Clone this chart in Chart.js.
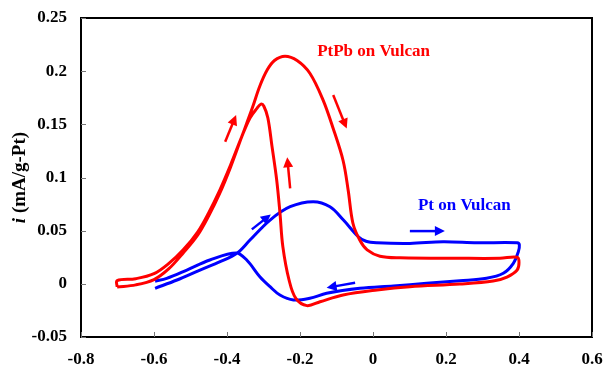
<!DOCTYPE html>
<html>
<head>
<meta charset="utf-8">
<script src="https://cdn.jsdelivr.net/npm/chart.js@4.4.1/dist/chart.umd.min.js"></script>
<style>
html,body{margin:0;padding:0;background:#fff;}
#wrap{width:604px;height:371px;}
</style>
</head>
<body>
<div id="wrap"><canvas id="cv"></canvas></div>
<script>
// PtPb on Vulcan, forward scan then reverse scan (potential, current)
const ptpbX = [-0.701,-0.65,-0.60,-0.56,-0.52,-0.48,-0.45,-0.42,-0.39,-0.36,-0.33,-0.31,-0.29,-0.27,-0.241,-0.208,-0.173,-0.137,-0.110,-0.082,-0.068,-0.055,-0.036,-0.016,0.019,0.074,0.238,0.348,0.395,0.400,
  0.395,0.367,0.329,0.238,0.101,0.011,-0.082,-0.145,-0.181,-0.211,-0.230,-0.247,-0.255,-0.264,-0.277,-0.288,-0.299,-0.307,-0.318,-0.337,-0.36,-0.39,-0.42,-0.45,-0.48,-0.52,-0.56,-0.60,-0.65,-0.701,-0.701];
const ptpbY = [-0.003,-0.001,0.004,0.014,0.029,0.046,0.064,0.085,0.110,0.138,0.166,0.186,0.201,0.210,0.214,0.210,0.198,0.173,0.147,0.116,0.088,0.057,0.041,0.032,0.026,0.0245,0.024,0.024,0.025,0.020,
  0.013,0.0064,0.0026,-0.0002,-0.0027,-0.0058,-0.0105,-0.0168,-0.0205,-0.014,0.0036,0.035,0.067,0.098,0.130,0.156,0.167,0.169,0.165,0.156,0.138,0.112,0.088,0.067,0.049,0.032,0.019,0.0095,0.0048,0.003,-0.003];

// Pt on Vulcan
const ptX = [-0.597,-0.537,-0.474,-0.419,-0.373,-0.337,-0.282,-0.227,-0.164,-0.118,-0.081,-0.040,-0.019,0.011,0.101,0.192,0.285,0.395,0.401,
  0.398,0.384,0.357,0.311,0.238,0.147,0.056,-0.036,-0.127,-0.173,-0.218,-0.255,-0.282,-0.310,-0.346,-0.375,-0.447,-0.510,-0.565,-0.597];
const ptY = [-0.0042,0.0036,0.013,0.0208,0.0287,0.0412,0.060,0.0725,0.0772,0.0725,0.060,0.0443,0.040,0.0386,0.038,0.0396,0.0386,0.0386,0.0365,
  0.030,0.019,0.0099,0.0052,0.0029,0.0005,-0.002,-0.0042,-0.0089,-0.0136,-0.0152,-0.0105,-0.0027,0.0067,0.0224,0.029,0.0224,0.013,0.0052,0.0025];

// scan direction arrows [x0, y0, x1, y1]
const redArrows = [[-0.405,0.1336,-0.375,0.1587],[-0.109,0.1775,-0.072,0.146],[-0.227,0.0898,-0.235,0.119]];
const blueArrows = [[-0.332,0.0512,-0.280,0.0653],[-0.049,0.001,-0.127,-0.0037],[0.101,0.0496,0.197,0.0496]];

const xMin = -0.8, xMax = 0.6, xStep = 0.2;
const yMin = -0.05, yMax = 0.25, yStep = 0.05;

const RED = '#ff0000', BLUE = '#0000ff';
const serif = "'Liberation Serif','Times New Roman',serif";

function pts(xs, ys){ return xs.map((x,i)=>({x:x, y:ys[i]})); }

function drawArrow(ctx, x0, y0, x1, y1, col){
  const a = Math.atan2(y1-y0, x1-x0), L = 10, W = 5;
  ctx.save();
  ctx.strokeStyle = col; ctx.fillStyle = col; ctx.lineWidth = 2.5;
  ctx.beginPath(); ctx.moveTo(x0,y0); ctx.lineTo(x1 - Math.cos(a)*L*0.8, y1 - Math.sin(a)*L*0.8); ctx.stroke();
  ctx.beginPath();
  ctx.moveTo(x1,y1);
  ctx.lineTo(x1 - Math.cos(a)*L - Math.sin(a)*W, y1 - Math.sin(a)*L + Math.cos(a)*W);
  ctx.lineTo(x1 - Math.cos(a)*L + Math.sin(a)*W, y1 - Math.sin(a)*L - Math.cos(a)*W);
  ctx.closePath(); ctx.fill();
  ctx.restore();
}

const decor = {
  id: 'decor',
  afterDatasetsDraw(chart){
    const ctx = chart.ctx, a = chart.chartArea, sx = chart.scales.x, sy = chart.scales.y;
    ctx.save();
    // frame
    ctx.strokeStyle = '#000'; ctx.lineWidth = 2;
    ctx.strokeRect(a.left, a.top, a.right-a.left, a.bottom-a.top);
    // inward ticks
    ctx.lineWidth = 1; ctx.strokeStyle = '#777';
    ctx.beginPath();
    sx.ticks.forEach(t=>{ const p = Math.round(sx.getPixelForValue(t.value))+0.5; ctx.moveTo(p,a.bottom); ctx.lineTo(p,a.bottom-5); });
    sy.ticks.forEach(t=>{ const p = Math.round(sy.getPixelForValue(t.value))+0.5; ctx.moveTo(a.left,p); ctx.lineTo(a.left+5,p); });
    ctx.stroke();
    // arrows
    redArrows.forEach(r=>drawArrow(ctx, sx.getPixelForValue(r[0]), sy.getPixelForValue(r[1]), sx.getPixelForValue(r[2]), sy.getPixelForValue(r[3]), RED));
    blueArrows.forEach(r=>drawArrow(ctx, sx.getPixelForValue(r[0]), sy.getPixelForValue(r[1]), sx.getPixelForValue(r[2]), sy.getPixelForValue(r[3]), BLUE));
    // curve labels
    ctx.font = 'bold 17px ' + serif; ctx.textBaseline = 'middle'; ctx.textAlign = 'left';
    ctx.fillStyle = RED; ctx.fillText('PtPb on Vulcan', sx.getPixelForValue(-0.153), sy.getPixelForValue(0.218));
    ctx.fillStyle = BLUE; ctx.fillText('Pt on Vulcan', sx.getPixelForValue(0.123), sy.getPixelForValue(0.074));
    // y title with italic i
    ctx.translate(20, (a.top+a.bottom)/2);
    ctx.rotate(-Math.PI/2);
    ctx.fillStyle = '#000';
    const f1 = 'italic bold 19px ' + serif, f2 = 'bold 19px ' + serif;
    ctx.font = f1; const w1 = ctx.measureText('i ').width;
    ctx.font = f2; const w2 = ctx.measureText('(mA/g-Pt)').width;
    let x = -(w1+w2)/2;
    ctx.font = f1; ctx.fillText('i ', x, 0);
    ctx.font = f2; ctx.fillText('(mA/g-Pt)', x + w1, 0);
    ctx.restore();
  }
};

new Chart(document.getElementById('cv'), {
  type: 'scatter',
  data: {
    datasets: [
      { label: 'PtPb on Vulcan', data: pts(ptpbX, ptpbY), showLine: true, borderColor: RED, borderWidth: 3, pointRadius: 0, tension: 0.35, fill: false },
      { label: 'Pt on Vulcan', data: pts(ptX, ptY), showLine: true, borderColor: BLUE, borderWidth: 3, pointRadius: 0, tension: 0.35, fill: false }
    ]
  },
  options: {
    responsive: true,
    maintainAspectRatio: false,
    animation: false,
    layout: { padding: { left: 0, top: 18, right: 12, bottom: 0 } },
    plugins: { legend: { display: false }, tooltip: { enabled: false } },
    scales: {
      x: {
        type: 'linear', min: xMin, max: xMax,
        grid: { display: false, drawTicks: false },
        border: { display: false },
        ticks: { stepSize: xStep, color: '#000', padding: 12, font: { family: serif, size: 17, weight: 'bold' },
          callback: v => String(Math.round(v*10)/10) },
        afterFit: s => { s.height = 34; s.paddingLeft = 0; s.paddingRight = 0; }
      },
      y: {
        type: 'linear', min: yMin, max: yMax,
        grid: { display: false, drawTicks: false },
        border: { display: false },
        ticks: { stepSize: yStep, color: '#000', padding: 14, font: { family: serif, size: 17, weight: 'bold' },
          callback: v => String(Math.round(v*100)/100) },
        afterFit: s => { s.width = 81; s.paddingTop = 0; s.paddingBottom = 0; }
      }
    }
  },
  plugins: [decor]
});
</script>
</body>
</html>
